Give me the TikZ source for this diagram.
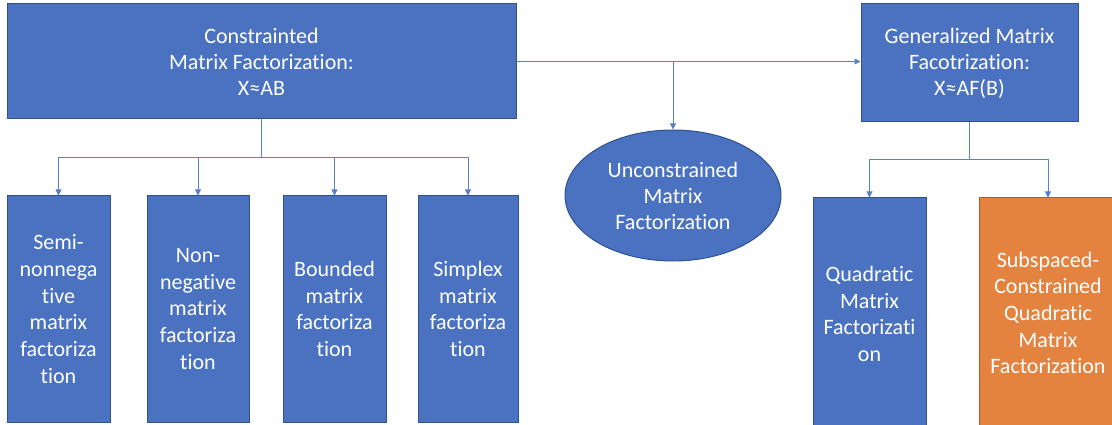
\documentclass[tikz,border=0pt]{standalone}
\usepackage{fontspec}
\setmainfont{Carlito}[RawFeature={-liga;-clig;-calt;-dlig}]
\usetikzlibrary{arrows.meta,shapes.geometric}
\definecolor{fillblue}{HTML}{4A72C0}
\definecolor{edgeblue}{HTML}{2F528F}
\definecolor{fillorange}{HTML}{E48340}
\definecolor{edgeorange}{HTML}{AE5A21}
\definecolor{linkblue}{HTML}{5B80C8}
\begin{document}
\begin{tikzpicture}[x=1pt,y=-1pt,
  box/.style={draw=edgeblue, line width=1pt, fill=fillblue, text=white, align=center, inner sep=0pt},
  topfont/.style={font=\fontsize{22}{26}\selectfont},
  kidfont/.style={font=\fontsize{22}{26.7}\selectfont},
  orangebox/.style={box, draw=edgeorange, fill=fillorange},
  link/.style={draw=linkblue, line width=0.9pt},
  arr/.style={link, -{Triangle[length=6pt,width=6pt]}}
]
\useasboundingbox (0,0) rectangle (1112,425);
\clip (0,0) rectangle (1112,425);

% top level
\node[box, topfont, minimum width=509pt, minimum height=115pt] (cmf) at (261.5,61.5)
  {Constrainted\\Matrix Factorization:\\X≈AB};
\node[box, topfont, minimum width=217pt, minimum height=118pt] (gmf) at (969.5,63)
  {Generalized Matrix\\Facotrization:\\X≈AF(B)};
\node[box, topfont, ellipse, minimum width=216pt, minimum height=131pt] (unc) at (673,195.5)
  {Unconstrained\\Matrix\\Factorization};

% children of constrained
\node[box, kidfont, minimum width=103pt, minimum height=226pt] (c1) at (58.5,309)
  {Semi-\\nonnega\\tive\\matrix\\factoriza\\tion};
\node[box, kidfont, minimum width=102pt, minimum height=226pt] (c2) at (198,309)
  {Non-\\negative\\matrix\\factoriza\\tion};
\node[box, kidfont, minimum width=103pt, minimum height=226pt] (c3) at (334.5,309)
  {Bounded\\matrix\\factoriza\\tion};
\node[box, kidfont, minimum width=100pt, minimum height=226pt] (c4) at (468,309)
  {Simplex\\matrix\\factoriza\\tion};

% children of generalized
\node[box, kidfont, minimum width=113pt, minimum height=232pt] (q1) at (869.5,314)
  {Quadratic\\Matrix\\Factorizati\\on};
\node[orangebox, kidfont, minimum width=138pt, minimum height=230pt] (q2) at (1048,313)
  {Subspaced-\\Constrained\\Quadratic\\Matrix\\Factorization};

% connectors
\coordinate (bar1) at (262,157);
\coordinate (bar2) at (969.5,159);
\draw[arr] (cmf.east) -- (cmf.east -| gmf.west);
\draw[arr] (cmf.east -| unc.north) -- (unc.north);
\draw[link] (cmf.south) -- (cmf.south |- bar1);
\draw[arr] (cmf.south |- bar1) -| (c1.north);
\draw[arr] (cmf.south |- bar1) -| (c2.north);
\draw[arr] (cmf.south |- bar1) -| (c3.north);
\draw[arr] (cmf.south |- bar1) -| (c4.north);
\draw[link] (gmf.south) -- (gmf.south |- bar2);
\draw[arr] (gmf.south |- bar2) -| (q1.north);
\draw[arr] (gmf.south |- bar2) -| (q2.north);
\end{tikzpicture}
\end{document}
